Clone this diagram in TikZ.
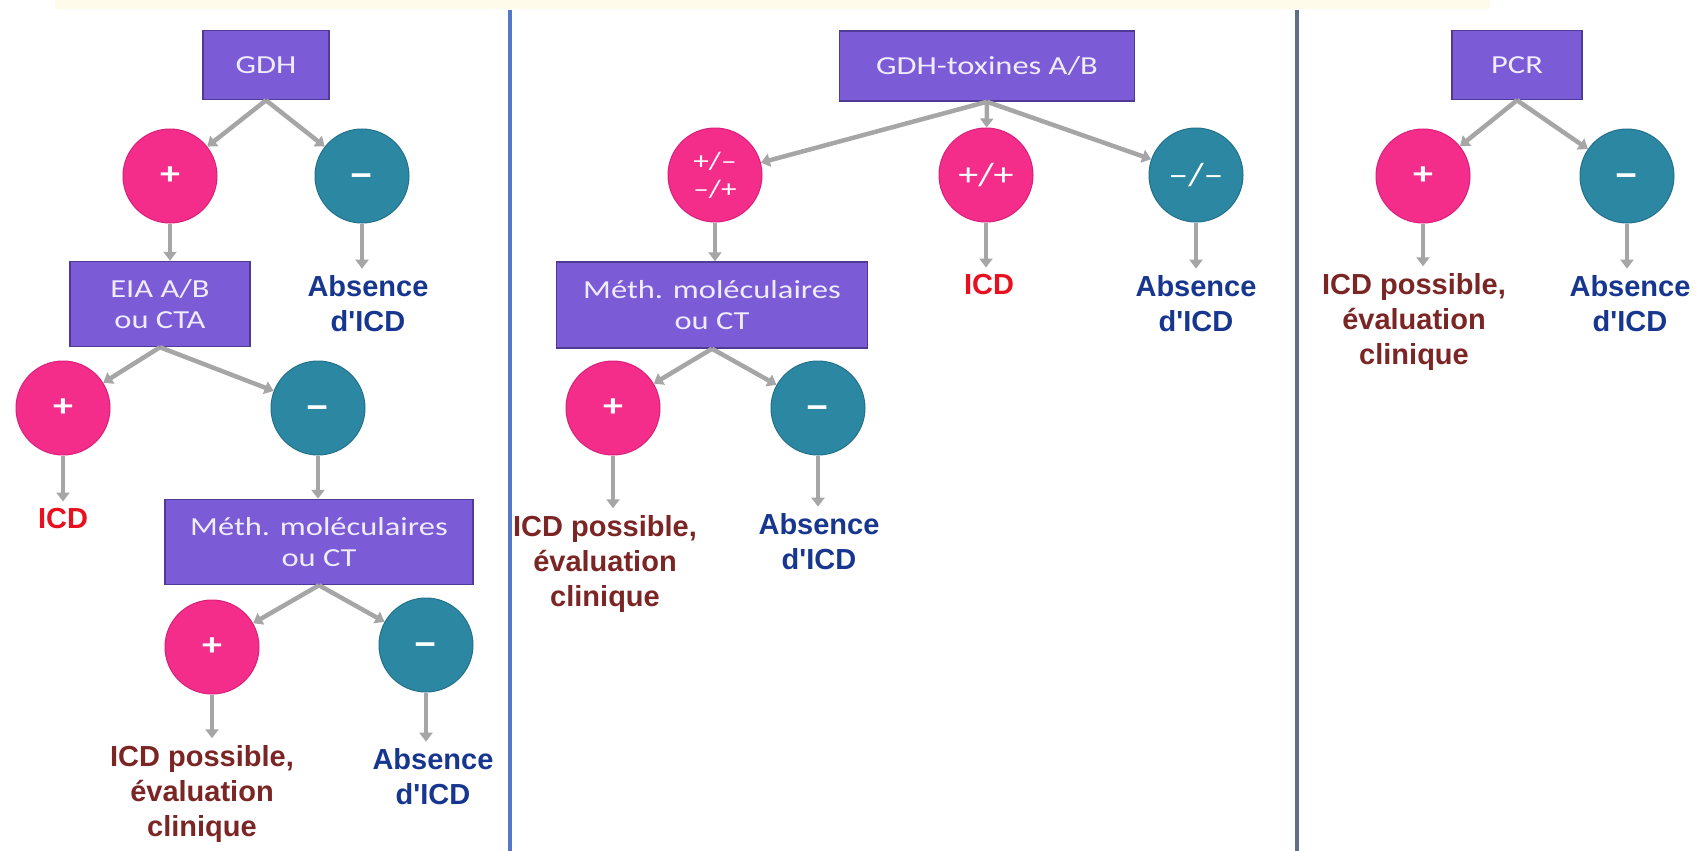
\documentclass[tikz,border=0pt]{standalone}
\usepackage{fontspec}
\setmainfont{Carlito}
\newfontfamily\boxfont[FakeStretch=1.25]{Carlito}
\newfontfamily\labfont{Liberation Sans}
\usetikzlibrary{arrows.meta}

\definecolor{boxfill}{HTML}{7B5BD6}
\definecolor{boxline}{HTML}{4F3B96}
\definecolor{boxtext}{HTML}{F0ECFF}
\definecolor{pinkc}{HTML}{F52D8A}
\definecolor{pinkline}{HTML}{D8207A}
\definecolor{tealc}{HTML}{2C88A2}
\definecolor{tealline}{HTML}{23708A}
\definecolor{arrowgray}{HTML}{A6A6A6}
\definecolor{icdred}{HTML}{E8101E}
\definecolor{darkred}{HTML}{7B2525}
\definecolor{absblue}{HTML}{17368F}
\definecolor{sepleft}{HTML}{5577C8}
\definecolor{sepright}{HTML}{5E6F88}
\definecolor{topband}{HTML}{FFFBEA}

\newcommand{\moins}{\raisebox{-11pt}[0pt][0pt]{–}}

\begin{document}
\begin{tikzpicture}[x=1pt, y=-1pt,
	test/.style={rectangle, draw=boxline, fill=boxfill, line width=1.5pt, text=boxtext, font=\boxfont\fontsize{26}{31}\selectfont, align=center, inner sep=0pt},
	poscirc/.style={circle, fill=pinkc, draw=pinkline, line width=1pt, minimum size=94pt, inner sep=0pt, text=white, font=\boxfont\bfseries\fontsize{32}{30}\selectfont, align=center},
	negcirc/.style={poscirc, fill=tealc, draw=tealline, font=\boxfont\bfseries\fontsize{42}{30}\selectfont},
	res/.style={font=\labfont\bfseries\fontsize{29}{35}\selectfont, align=center, inner sep=7pt},
	flow/.style={draw=arrowgray, line width=4.5pt, -{Triangle[length=9pt,width=13pt]}}]
				
				\useasboundingbox (0,0) rectangle (1700,851);
				\fill[topband] (55,0) rectangle (1490,9);
				\draw[sepleft, line width=3.5pt] (510,10) -- (510,851);
				\draw[sepright, line width=3.5pt] (1297,10) -- (1297,851);
				
				\node[test, minimum width=126pt, minimum height=69pt] (G1) at (266,65) {GDH};
				\node[poscirc] (P1) at (170,176) {+};
				\node[negcirc] (M1) at (362,176) {\moins};
				\node[test, minimum width=180pt, minimum height=85pt] (E1) at (160,304) {EIA A/B\\ou CTA};
				\node[res, text=absblue] (A1) at (368,304) {Absence\\d'ICD};
				\node[poscirc] (P2) at (63,408) {+};
				\node[negcirc] (M2) at (318,408) {\moins};
				\node[res, text=icdred] (I1) at (63,519) {ICD};
				\node[test, minimum width=308pt, minimum height=85pt] (B1) at (319,542) {Méth. moléculaires\\ou CT};
				\node[poscirc] (P3) at (212,647) {+};
				\node[negcirc] (M3) at (426,645) {\moins};
				\node[res, text=darkred] (L1) at (202,794) {ICD possible,\\évaluation\\clinique};
				\node[res, text=absblue] (A2) at (433,777) {Absence\\d'ICD};
				
				\draw[flow] (G1.south) -- (P1);
				\draw[flow] (G1.south) -- (M1);
				\draw[flow] (P1) -- (P1 |- E1.north);
				\draw[flow] (M1) -- (M1 |- A1.north);
				\draw[flow] (E1.south) -- (P2);
				\draw[flow] (E1.south) -- (M2);
				\draw[flow] (P2) -- (P2 |- I1.north);
				\draw[flow] (M2) -- (M2 |- B1.north);
				\draw[flow] (B1.south) -- (P3);
				\draw[flow] (B1.south) -- (M3);
				\draw[flow] (P3) -- (P3 |- L1.north);
				\draw[flow] (M3) -- (M3 |- A2.north);
				
				\node[test, minimum width=295pt, minimum height=70pt] (G2) at (987,66) {GDH-toxines A/B};
				\node[poscirc, font=\boxfont\fontsize{25}{28}\selectfont] (P4) at (715,175) {+/–\\–/+};
				\node[poscirc, font=\boxfont\fontsize{32}{32}\selectfont] (P5) at (986,175) {+/+};
				\node[negcirc, font=\boxfont\fontsize{32}{32}\selectfont] (M4) at (1196,175) {–/–};
				\node[test, minimum width=311pt, minimum height=86pt] (B2) at (712,305) {Méth. moléculaires\\ou CT};
				\node[res, text=icdred] (I2) at (989,285) {ICD};
				\node[res, text=absblue] (A3) at (1196,304) {Absence\\d'ICD};
				\node[poscirc] (P6) at (613,408) {+};
				\node[negcirc] (M5) at (818,408) {\moins};
				\node[res, text=darkred] (L2) at (605,564) {ICD possible,\\évaluation\\clinique};
				\node[res, text=absblue] (A4) at (819,542) {Absence\\d'ICD};
				
				\draw[flow] (G2.south) -- (P4);
				\draw[flow] (G2.south) -- (P5);
				\draw[flow] (G2.south) -- (M4);
				\draw[flow] (P4) -- (P4 |- B2.north);
				\draw[flow] (P5) -- (P5 |- I2.north);
				\draw[flow] (M4) -- (M4 |- A3.north);
				\draw[flow] (B2.south) -- (P6);
				\draw[flow] (B2.south) -- (M5);
				\draw[flow] (P6) -- (P6 |- L2.north);
				\draw[flow] (M5) -- (M5 |- A4.north);
				
				\node[test, minimum width=130pt, minimum height=69pt] (G3) at (1517,65) {PCR};
				\node[poscirc] (P7) at (1423,176) {+};
				\node[negcirc] (M6) at (1627,176) {\moins};
				\node[res, text=darkred] (L3) at (1414,322) {ICD possible,\\évaluation\\clinique};
				\node[res, text=absblue] (A5) at (1630,304) {Absence\\d'ICD};
				
				\draw[flow] (G3.south) -- (P7);
				\draw[flow] (G3.south) -- (M6);
				\draw[flow] (P7) -- (P7 |- L3.north);
				\draw[flow] (M6) -- (M6 |- A5.north);
				
			\end{tikzpicture}
\end{document}
